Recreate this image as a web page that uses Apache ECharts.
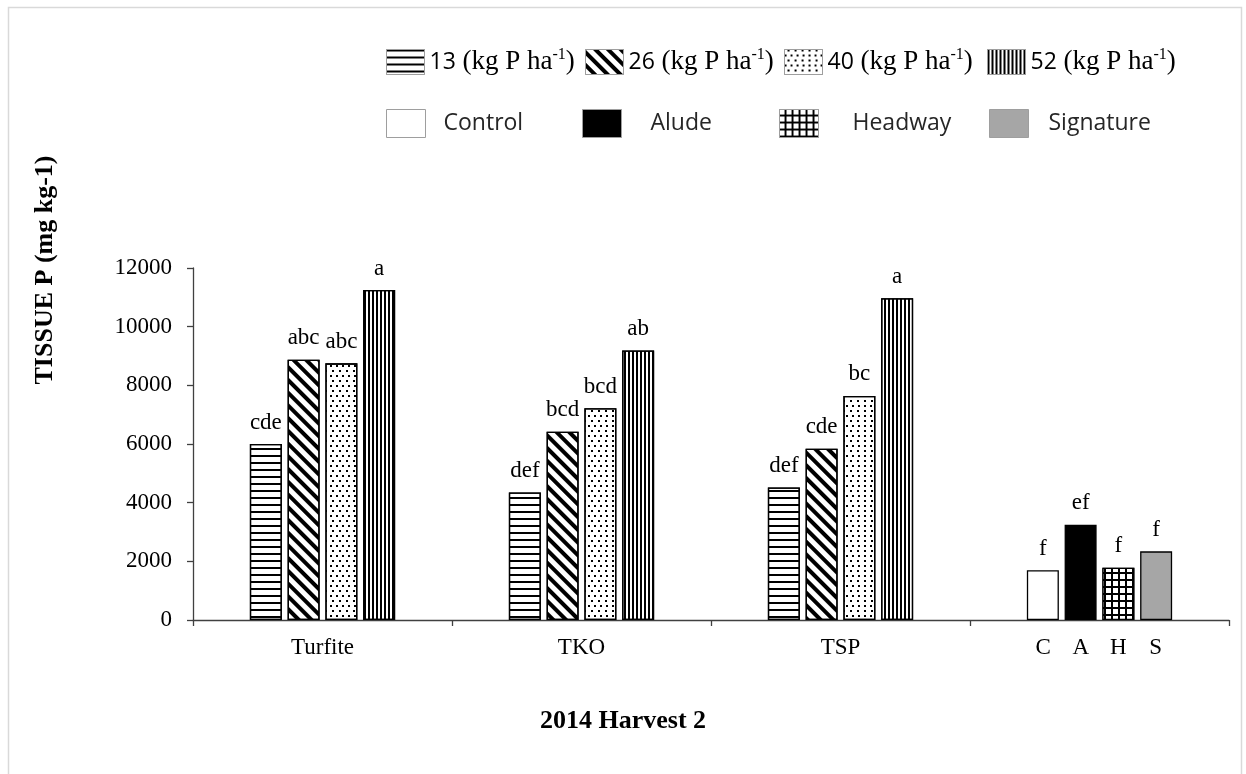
<!DOCTYPE html>
<html>
<head>
<meta charset="utf-8">
<script src="https://cdn.jsdelivr.net/npm/echarts@6/dist/echarts.min.js"></script>
<style>
html,body{margin:0;padding:0;background:#fff;}
#chart{width:1246px;height:774px;}
</style>
</head>
<body>
<div id="chart"></div>
<script>
// ---- data ----
const categories = ['Turfite', 'TKO', 'TSP', 'CAHS'];
const productLetters = ['C', 'A', 'H', 'S'];
const yTicks = [0, 2000, 4000, 6000, 8000, 10000, 12000];

const rateNames = ['13', '26', '40', '52'];
const rate13 = [6000, 4350, 4520];
const rate26 = [8870, 6420, 5840];
const rate40 = [8750, 7220, 7640];
const rate52 = [11250, 9190, 10970];

const letters13 = ['cde', 'def', 'def'];
const letters26 = ['abc', 'bcd', 'cde'];
const letters40 = ['abc', 'bcd', 'bc'];
const letters52 = ['a', 'ab', 'a'];

const productNames = ['Control', 'Alude', 'Headway', 'Signature'];
const productValues = [1700, 3250, 1780, 2340];
const productSig = ['f', 'ef', 'f', 'f'];

// ---- styles ----
const SERIF = 'Liberation Serif';
const SANS = 'Open Sans';
const decals = {
  '13': { symbol: 'rect', symbolSize: 1, color: '#000', dashArrayX: [1, 0], dashArrayY: [2, 5], rotation: 0 },
  '26': { symbol: 'rect', symbolSize: 1, color: '#000', dashArrayX: [1, 0], dashArrayY: [4, 4.5], rotation: Math.PI / 4 },
  '40': { symbol: 'rect', symbolSize: 1, color: '#000', dashArrayX: [[1.3, 3.7], [0, 2.5, 1.3, 1.2]], dashArrayY: [1.3, 2.2], rotation: 0 },
  '52': { symbol: 'rect', symbolSize: 1, color: '#000', dashArrayX: [2, 2], dashArrayY: [1, 0], rotation: 0 },
  'Headway': { symbol: 'rect', symbolSize: 1, color: '#fff', dashArrayX: [5, 2], dashArrayY: [5, 2], rotation: 0 }
};
const productColors = { Control: '#ffffff', Alude: '#000000', Headway: '#000000', Signature: '#a6a6a6' };

const rateData = { '13': rate13, '26': rate26, '40': rate40, '52': rate52 };
const rateLetters = { '13': letters13, '26': letters26, '40': letters40, '52': letters52 };

const labelStyle = { show: true, position: 'top', distance: 10, fontFamily: SERIF, fontSize: 23, color: '#000' };

const series = [];
rateNames.forEach((n, i) => {
  series.push({
    name: n, type: 'bar', stack: 's' + i, barWidth: 32, barGap: '18%',
    data: rateData[n].concat(['-']),
    itemStyle: { color: '#fff', borderColor: '#000', borderWidth: 1.3, decal: decals[n] },
    label: Object.assign({}, labelStyle, { formatter: p => rateLetters[n][p.dataIndex] })
  });
});
productNames.forEach((n, i) => {
  const d = ['-', '-', '-', productValues[i]];
  const it = { color: productColors[n], borderColor: '#000', borderWidth: 1.3 };
  if (decals[n]) it.decal = decals[n];
  series.push({
    name: n, type: 'bar', stack: 's' + i, barWidth: 32, barGap: '18%',
    data: d, itemStyle: it,
    label: Object.assign({}, labelStyle, { formatter: () => productSig[i] })
  });
});

const legendRich = {
  s: { fontFamily: SANS, fontSize: 23, color: '#000', lineHeight: 30 },
  t: { fontFamily: SERIF, fontSize: 27, color: '#000', lineHeight: 30 },
  sup: { fontFamily: SERIF, fontSize: 16, color: '#000', verticalAlign: 'top', lineHeight: 30 }
};
function legendItem(name, left, top, w, h, padLeft, formatter) {
  return {
    data: [name], left: left, top: top, itemWidth: w, itemHeight: h, selectedMode: false,
    icon: 'rect', padding: 0,
    itemStyle: { borderColor: '#9e9e9e', borderWidth: 1 },
    textStyle: { fontFamily: SANS, fontSize: 23, color: '#262626', padding: [0, 0, 0, padLeft], rich: legendRich },
    formatter: formatter
  };
}
const rateFmt = n => '{s|' + n + '}{t| (kg P ha}{sup|-1}{t|)}';
const legends = [
  legendItem('13', 386, 47, 38, 25, 0, rateFmt),
  legendItem('26', 585, 47, 38, 25, 0, rateFmt),
  legendItem('40', 784, 47, 38, 25, 0, rateFmt),
  legendItem('52', 987, 47, 38, 25, 0, rateFmt),
  legendItem('Control', 386, 109, 39, 28, 13),
  legendItem('Alude', 582, 109, 39, 28, 24),
  legendItem('Headway', 779, 109, 39, 28, 29),
  legendItem('Signature', 989, 109, 39, 28, 15)
];

const option = {
  animation: false,
  backgroundColor: '#fff',
  title: {
    text: '2014 Harvest 2', left: 'center', top: 703,
    textStyle: { fontFamily: SERIF, fontSize: 26, fontWeight: 'bold', color: '#000' }
  },
  legend: legends,
  graphic: [
    { type: 'rect', shape: { x: 8.5, y: 7.5, width: 1233, height: 820 }, style: { fill: 'none', stroke: '#d9d9d9', lineWidth: 1.5 }, silent: true, z: -1 },
    { type: 'text', x: 45, y: 270, rotation: Math.PI / 2,
      style: { text: 'TISSUE P (mg kg-1)', font: 'bold 26px "Liberation Serif"', fill: '#000', textAlign: 'center', textVerticalAlign: 'middle' } }
  ],
  grid: { left: 193, right: 17, top: 268, bottom: 154 },
  xAxis: {
    type: 'category', data: categories,
    axisLine: { lineStyle: { color: '#404040', width: 1.3 } },
    axisTick: { show: true, interval: 0, length: 6, lineStyle: { color: '#404040', width: 1.3 } },
    axisLabel: {
      interval: 0, margin: 16, fontFamily: SERIF, fontSize: 23, color: '#000',
      formatter: v => v === 'CAHS' ? productLetters.map(c => '{c|' + c + '}').join('') : v,
      rich: { c: { width: 37.5, align: 'center', fontFamily: SERIF, fontSize: 23, color: '#000' } }
    }
  },
  yAxis: {
    type: 'value', min: yTicks[0], max: yTicks[yTicks.length - 1], interval: yTicks[1] - yTicks[0],
    axisLine: { show: true, lineStyle: { color: '#404040', width: 1.3 } },
    axisTick: { show: true, length: 6, lineStyle: { color: '#404040', width: 1.3 } },
    splitLine: { show: false },
    axisLabel: { margin: 21, fontFamily: SERIF, fontSize: 23, color: '#000', formatter: v => String(v) }
  },
  series: series
};

const chart = echarts.init(document.getElementById('chart'), null, { renderer: 'canvas' });
chart.setOption(option);
</script>
</body>
</html>
